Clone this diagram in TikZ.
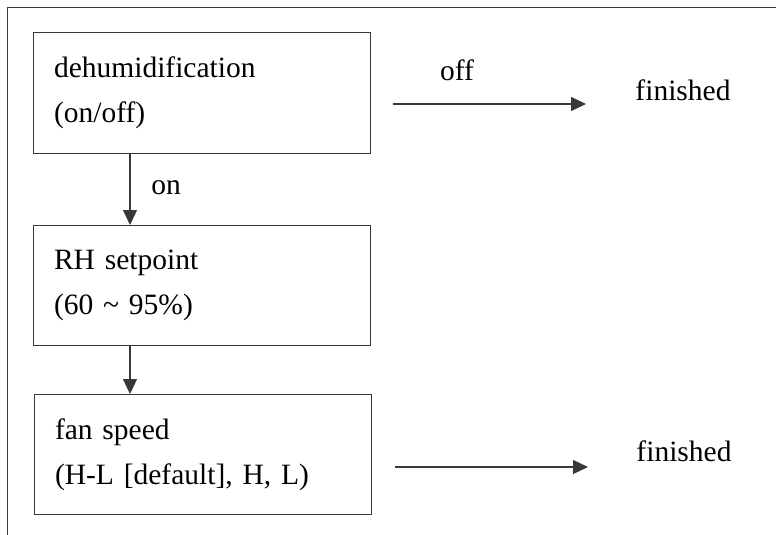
\documentclass[tikz,border=0pt]{standalone}
\usepackage{fontspec}
\setmainfont{Liberation Serif}
\usetikzlibrary{arrows.meta}

\begin{document}
\begin{tikzpicture}[x=1pt,y=-1pt,
        line width=1pt,
        draw=black!78,
        every node/.style = {font=\fontsize{29.5}{45}\selectfont},
        stepbox/.style = {draw,
            minimum width=337pt,
            minimum height=120pt,
            text width=295pt,
            inner xsep=21pt,
            align=left
            },
        flow/.style = {line width=1.3pt,
            -{Triangle[length=15pt,width=14pt]}
            }]

    \useasboundingbox (0,0) rectangle (776,535);

    % Frame
    \draw (776,8) -- (7,8) -- (7,535);

    % Boxes
    \node[stepbox] (dehum) at (201.5,93) {dehumidification\\(on/off)};
    \node[stepbox] (setpoint) at (201.5,285.5) {RH setpoint\\(60 \textasciitilde{} 95\%)};
    \node[stepbox] (fanspeed) at (202.5,454.5) {fan speed\\(H-L [default], H, L)};

    % Vertical arrows
    \draw[flow] (dehum.south -| 130,0) -- (setpoint.north -| 130,0);
    \draw[flow] (setpoint.south -| 130,0) -- (fanspeed.north -| 130,0);
    \node (on) at (166,188) {on};

    % Off branch
    \coordinate (offstart) at (393,104);
    \coordinate (offend) at (586,104);
    \draw[flow] (offstart) -- (offend);
    \node (off) at (457,70) {off};
    \node (finA) at (683,90) {finished};

    % After fan speed
    \coordinate (fanstart) at (395,467);
    \coordinate (fanend) at (588,467);
    \draw[flow] (fanstart) -- (fanend);
    \node (finB) at (684,451) {finished};

\end{tikzpicture}
\end{document}
